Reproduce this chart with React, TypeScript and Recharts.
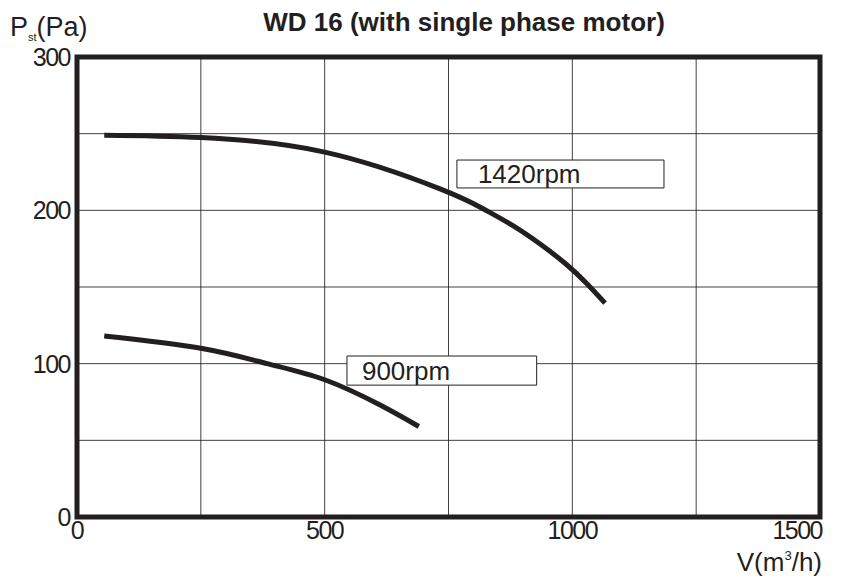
import { LineChart, Line, XAxis, YAxis, CartesianGrid, ReferenceArea } from 'recharts';

// fan curve WD 16
const flow1420 = [55, 250, 500, 733, 820, 880, 935, 987, 1030, 1066];
const pressure1420 = [249, 247.5, 238, 214, 201, 190, 178, 165, 152, 139.5];
const flow900 = [55, 250, 384, 500, 612, 690];
const pressure900 = [118, 110, 100, 89.5, 73, 59];

const xTicks = [0, 250, 500, 750, 1000, 1250, 1500];
const yTicks = [0, 50, 100, 150, 200, 250, 300];
const xLabels = [0, 500, 1000, 1500];
const yLabels = [0, 100, 200, 300];

const ink = '#231f20';
const font = '"Liberation Sans", Arial, sans-serif';

const data1420 = flow1420.map((v, i) => ({ v, p: pressure1420[i] }));
const data900 = flow900.map((v, i) => ({ v, p: pressure900[i] }));

const XTick = ({ x, y, payload }: any) => {
  if (!xLabels.includes(payload.value)) return <g />;
  const last = payload.value === 1500;
  return (
    <text x={last ? x + 2 : x} y={y} dy={14} textAnchor={last ? 'end' : 'middle'}
      fontFamily={font} fontSize={25} letterSpacing={-1.5} fill={ink}>
      {payload.value}
    </text>
  );
};

const YTick = ({ x, y, payload }: any) => {
  if (!yLabels.includes(payload.value)) return <g />;
  return (
    <text x={x + 1} y={y} dy={9} textAnchor="end"
      fontFamily={font} fontSize={25} letterSpacing={-1.5} fill={ink}>
      {payload.value}
    </text>
  );
};

const boxLabel = (text: string, pad: number) => (props: any) => {
  const vb = props.viewBox;
  return (
    <text x={vb.x + pad} y={vb.y + vb.height / 2} dy={9}
      fontFamily={font} fontSize={26} fill={ink}>
      {text}
    </text>
  );
};

export default function App() {
  return (
    <div style={{ position: 'absolute', left: 0, top: 0, width: 842, height: 580, background: '#fff' }}>
      <LineChart width={842} height={580} margin={{ top: 57, right: 22, left: 17, bottom: 23 }}>
        <CartesianGrid stroke={ink} strokeWidth={1} strokeOpacity={0.85} />
        <XAxis type="number" dataKey="v" domain={[0, 1500]} ticks={xTicks}
          axisLine={false} tickLine={false} tick={<XTick />} height={40} interval={0} />
        <YAxis type="number" dataKey="p" domain={[0, 300]} ticks={yTicks}
          axisLine={false} tickLine={false} tick={<YTick />} width={60} interval={0} />
        <Line data={data1420} dataKey="p" type="natural" stroke={ink} strokeWidth={5}
          dot={false} isAnimationActive={false} />
        <Line data={data900} dataKey="p" type="natural" stroke={ink} strokeWidth={5}
          dot={false} isAnimationActive={false} />
        <ReferenceArea x1={0} x2={1500} y1={0} y2={300} fill="none" fillOpacity={0}
          stroke={ink} strokeWidth={5} />
        <ReferenceArea x1={767} x2={1185} y1={214.6} y2={232.8} fill="#fff" fillOpacity={1}
          stroke={ink} strokeWidth={1} label={boxLabel('1420rpm', 21)} />
        <ReferenceArea x1={545} x2={928} y1={86} y2={105} fill="#fff" fillOpacity={1}
          stroke={ink} strokeWidth={1} label={boxLabel('900rpm', 15)} />
      </LineChart>
      <svg width={842} height={580} style={{ position: 'absolute', left: 0, top: 0, pointerEvents: 'none' }}>
        <text x={464} y={31} textAnchor="middle" fontFamily={font} fontSize={26} fontWeight="bold" fill={ink}>
          WD 16 (with single phase motor)
        </text>
        <text x={10} y={36} fontFamily={font} fontSize={27} fill={ink}>
          P<tspan fontSize={11} dy={5}>st</tspan><tspan dy={-5}>(Pa)</tspan>
        </text>
        <text x={822} y={571} textAnchor="end" fontFamily={font} fontSize={26} fill={ink}>
          V(m<tspan fontSize={13} dy={-11}>3</tspan><tspan dy={11}>/h)</tspan>
        </text>
      </svg>
    </div>
  );
}
